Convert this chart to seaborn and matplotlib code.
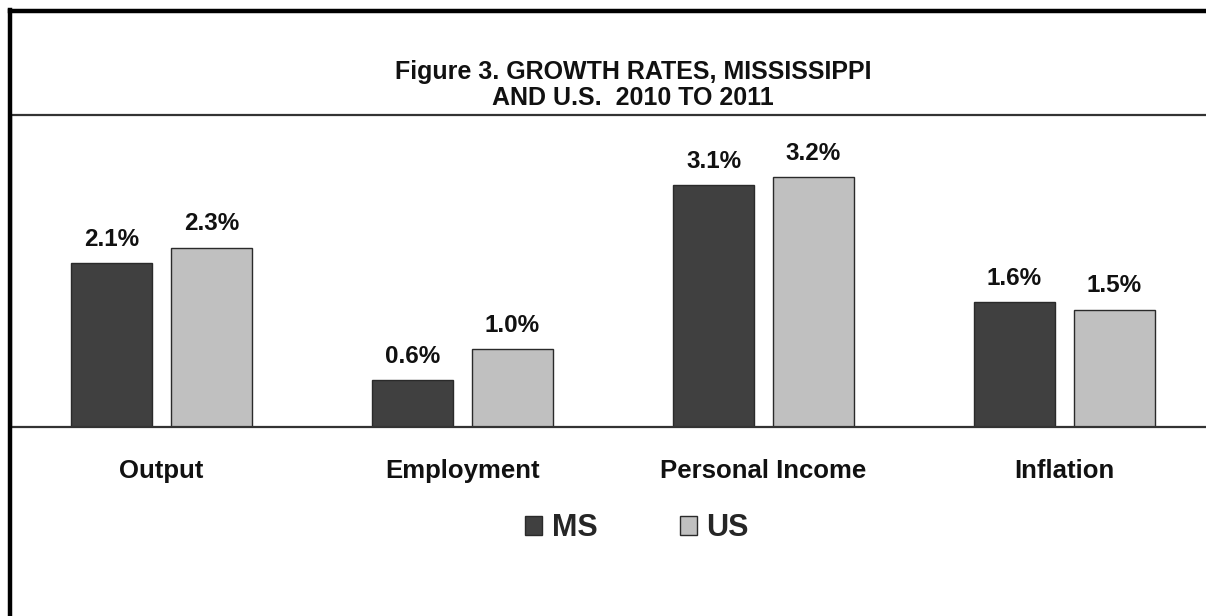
import matplotlib
matplotlib.use("Agg")
import matplotlib.pyplot as plt
from matplotlib.patches import Patch
from matplotlib.lines import Line2D
import pandas as pd
import seaborn as sns

# Growth rates 2010-2011, percent
categories = ["Output", "Employment", "Personal Income", "Inflation"]
ms_values = [2.1, 0.6, 3.1, 1.6]
us_values = [2.3, 1.0, 3.2, 1.5]
series_names = ["MS", "US"]
series_colors = ["#404040", "#C0C0C0"]
title_text = "Figure 3. GROWTH RATES, MISSISSIPPI\nAND U.S.  2010 TO 2011"

df = pd.DataFrame({
    "category": categories * 2,
    "series": [series_names[0]] * len(categories) + [series_names[1]] * len(categories),
    "value": ms_values + us_values,
})

sns.set_theme(style="white")
plt.rcParams["font.family"] = ["Liberation Sans", "DejaVu Sans"]
plt.rcParams["font.weight"] = "bold"

W, H = 1206, 616
fig = plt.figure(figsize=(W / 100, H / 100), dpi=100)
fig.patch.set_facecolor("white")

# plot area: left edge at x=11 px, category width ~301 px, extends past right edge
left_px, top_px, base_px = 11, 115, 427
ax = fig.add_axes([left_px / W, (H - base_px) / H, 1204 / W, (base_px - top_px) / H])

sns.barplot(
    data=df, x="category", y="value", hue="series",
    order=categories, hue_order=series_names,
    palette=series_colors, width=0.664, gap=0.19,
    edgecolor="#2a2a2a", linewidth=1.0, saturation=1, ax=ax, legend=False,
)

ax.set_xlim(-0.5, 3.5)
ax.set_ylim(0, 4.0)
ax.set_xlabel("")
ax.set_ylabel("")
ax.set_yticks([])
ax.tick_params(axis="x", length=0, pad=23, labelsize=18.5, labelcolor="#111111")
for lab in ax.get_xticklabels():
    lab.set_fontweight("bold")

for side in ["top", "bottom"]:
    ax.spines[side].set_visible(True)
    ax.spines[side].set_color("#333333")
    ax.spines[side].set_linewidth(1.6)
ax.spines["left"].set_color("#666666")
ax.spines["left"].set_linewidth(1.0)
ax.spines["right"].set_visible(False)

# value labels above each bar
for container, vals in zip(ax.containers, [ms_values, us_values]):
    ax.bar_label(container, labels=[f"{v:.1f}%" for v in vals],
                 padding=9, fontsize=17.5, fontweight="bold", color="#111111")

# title
fig.text(633 / W, 1 - 85 / H, title_text, ha="center", va="center",
         fontsize=18, fontweight="bold", linespacing=1.15, color="#111111")

# legend
handles = [Patch(facecolor=c, edgecolor="#2a2a2a", linewidth=1.0) for c in series_colors]
fig.legend(handles, series_names, loc="center", bbox_to_anchor=(637 / W, 1 - 528 / H),
           ncol=2, frameon=False, handlelength=0.56, handleheight=0.56,
           handletextpad=0.3, columnspacing=2.7, prop={"weight": "bold", "size": 22})

# outer frame: left and top edges
fig.add_artist(Line2D([10 / W, 10 / W], [0, 1 - 10 / H], transform=fig.transFigure,
                      color="black", linewidth=3.2, solid_capstyle="projecting"))
fig.add_artist(Line2D([10 / W, 1], [1 - 11 / H, 1 - 11 / H], transform=fig.transFigure,
                      color="black", linewidth=3.2, solid_capstyle="projecting"))

fig.savefig("out.png", dpi=100, facecolor="white")
